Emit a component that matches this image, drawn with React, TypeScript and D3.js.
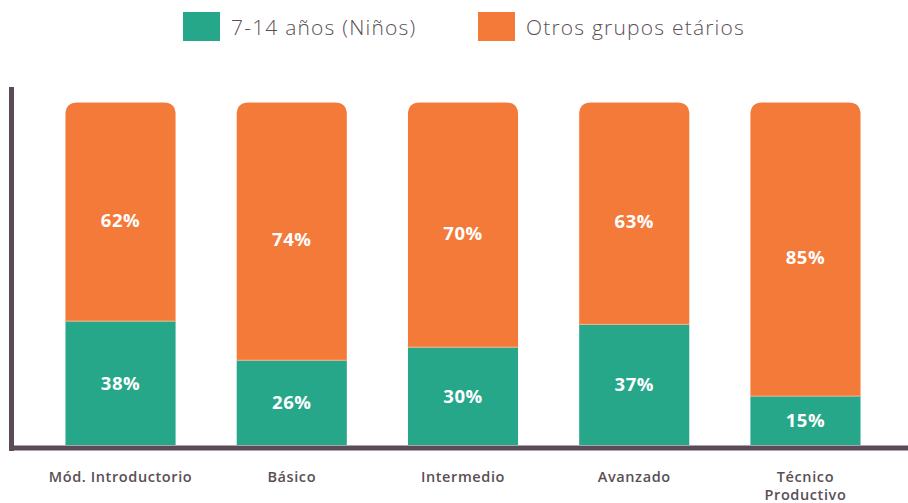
import React from "react";
import { scaleBand, scaleLinear, stack } from "d3";

const categories = ["Mód. Introductorio", "Básico", "Intermedio", "Avanzado", "Técnico Productivo"];
const ninos = [38, 26, 30, 37, 15];
const otros = [62, 74, 70, 63, 85];
const seriesNames = ["7-14 años (Niños)", "Otros grupos etários"];
const colors = ["#26a78a", "#f47a3a"];

const W = 908;
const H = 503;
const FONT = "'Open Sans', 'DejaVu Sans', sans-serif";
const CAP = 16.5; // rounded cap drawn above 100%
const R = 12;

const rows = categories.map((c, i) => ({ cat: c, a: ninos[i], b: otros[i] }));
const stacked = stack<any>().keys(["a", "b"])(rows);

const x = scaleBand().domain(categories).range([35, 891]).paddingInner(0.357).paddingOuter(0.178);
const y = scaleLinear().domain([0, 100]).range([445, 119]);

const topRounded = (x0: number, w: number, y0: number, y1: number, r: number) =>
  `M${x0},${y1}V${y0 + r}Q${x0},${y0} ${x0 + r},${y0}H${x0 + w - r}Q${x0 + w},${y0} ${x0 + w},${y0 + r}V${y1}Z`;

export default function App() {
  const bw = x.bandwidth();
  return (
    <svg width={W} height={H} style={{ display: "block", position: "absolute", left: 0, top: 0 }} fontFamily={FONT}>
      {/* legend */}
      <g>
        <rect x={183} y={12} width={37} height={29} fill={colors[0]} />
        <text x={231} y={28} dy="0.35em" fontSize={21} letterSpacing={1.2} fill="#5a4f57" fontWeight={300}>{seriesNames[0]}</text>
        <rect x={478} y={12} width={37} height={29} fill={colors[1]} />
        <text x={526} y={28} dy="0.35em" fontSize={21} letterSpacing={1.2} fill="#5a4f57" fontWeight={300}>{seriesNames[1]}</text>
      </g>

      {/* bars */}
      {stacked.map((s, si) => (
        <g key={si} fill={colors[si]}>
          {s.map((d, i) => {
            const x0 = x(categories[i])!;
            const yTop = y(d[1]);
            const yBot = y(d[0]);
            if (si === 1) {
              return <path key={i} d={topRounded(x0, bw, yTop - CAP, yBot, R)} />;
            }
            return <rect key={i} x={x0} y={yTop} width={bw} height={yBot - yTop} />;
          })}
        </g>
      ))}
      {/* thin separator between segments */}
      {stacked[0].map((d, i) => (
        <line key={i} x1={x(categories[i])!} x2={x(categories[i])! + bw} y1={y(d[1])} y2={y(d[1])} stroke="#f6b48f" strokeWidth={1} />
      ))}

      {/* value labels */}
      {stacked.map((s, si) =>
        s.map((d, i) => (
          <text
            key={`${si}-${i}`}
            x={x(categories[i])! + bw / 2}
            y={(y(d[0]) + y(d[1])) / 2}
            dy="0.36em"
            textAnchor="middle"
            fill="#fff"
            fontWeight={700}
            fontSize={18.5}
            letterSpacing={0.5}
          >
            {d[1] - d[0]}%
          </text>
        ))
      )}

      {/* axes */}
      <line x1={11.5} x2={11.5} y1={87} y2={451} stroke="#5b4b58" strokeWidth={5} />
      <line x1={9} x2={W} y1={448} y2={448} stroke="#5b4b58" strokeWidth={5} />

      {/* category labels */}
      {categories.map((c) => {
        const parts = c === "Técnico Productivo" ? ["Técnico", "Productivo"] : [c];
        const cx = x(c)! + bw / 2;
        return parts.map((p, k) => (
          <text key={c + k} x={cx} y={477 + k * 18} dy="0.35em" textAnchor="middle" fill="#5a4f57" fontSize={14.5} fontWeight={600} letterSpacing={0.6}>
            {p}
          </text>
        ));
      })}
    </svg>
  );
}
